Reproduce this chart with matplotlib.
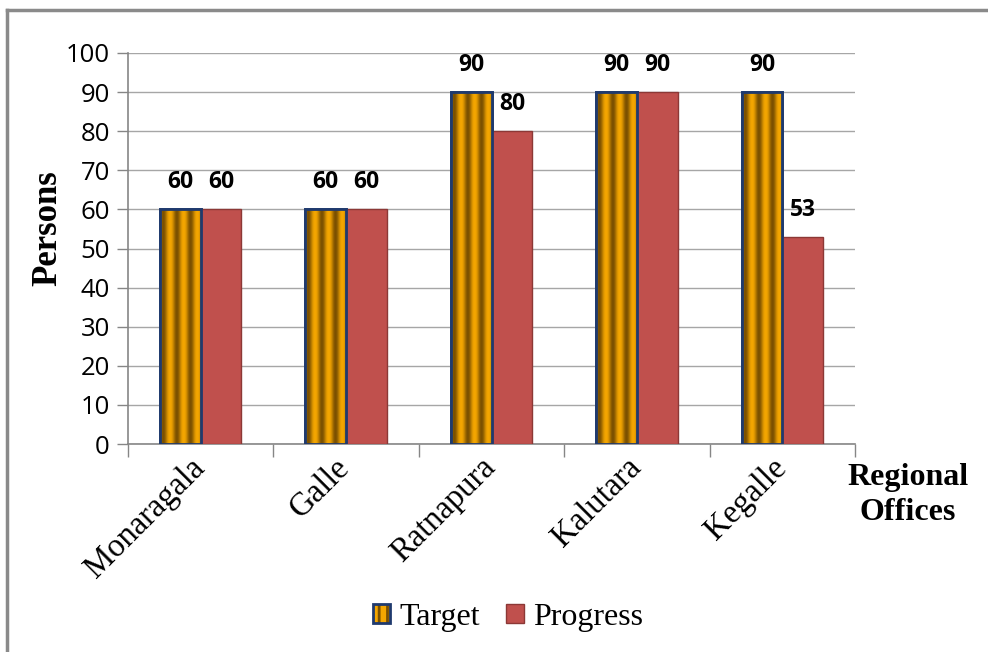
import numpy as np
import matplotlib
matplotlib.use("Agg")
import matplotlib.pyplot as plt
import matplotlib.transforms as mtransforms
from matplotlib.patches import Rectangle
from matplotlib.lines import Line2D
from matplotlib.legend_handler import HandlerTuple
from matplotlib.colors import LinearSegmentedColormap

offices = ["Monaragala", "Galle", "Ratnapura", "Kalutara", "Kegalle"]
target = [60, 60, 90, 90, 90]
progress = [60, 60, 80, 90, 53]
y_ticks = [0, 10, 20, 30, 40, 50, 60, 70, 80, 90, 100]

W, H = 988, 652
fig = plt.figure(figsize=(W / 100, H / 100), dpi=100)
ax = fig.add_axes([128 / W, 1 - 444 / H, (855 - 128) / W, (444 - 53) / H])

serif = "Liberation Serif"
sans = "Open Sans"
grid_col = "#A6A6A6"
axis_col = "#868686"
orange = "#F4A600"
brown = "#7A5000"
navy = "#1F3A6E"
red = "#C0504D"
red_edge = "#8C3836"

x = np.arange(len(offices))
bw = 0.28
tbars = ax.bar(x - bw / 2, target, bw, color=orange, edgecolor=navy, linewidth=2, zorder=3)
pbars = ax.bar(x + bw / 2, progress, bw, color=red, edgecolor=red_edge, linewidth=1, zorder=3)

# soft vertical stripes inside the target bars
stripe_cmap = LinearSegmentedColormap.from_list("stripe", [orange, brown])
t = np.linspace(0, 1, 300)
stripe = ((np.cos(2 * np.pi * 3 * (t - 0.08)) + 1) / 2) ** 1.2
stripe_img = np.tile(stripe, (2, 1))
for b in tbars:
    x0, w, h = b.get_x(), b.get_width(), b.get_height()
    im = ax.imshow(stripe_img, cmap=stripe_cmap, vmin=0, vmax=1,
                   extent=(x0, x0 + w, 0, h), aspect="auto",
                   interpolation="bilinear", zorder=3.5, origin="lower")
    im.set_clip_path(b)
    ax.add_patch(Rectangle((x0, 0), w, h, fill=False, edgecolor=navy,
                           linewidth=2, zorder=4))

ax.set_xlim(-0.5, len(offices) - 0.5)
ax.set_ylim(0, 100)
ax.set_yticks(y_ticks)
ax.set_yticklabels([str(v) for v in y_ticks], fontfamily=sans, fontsize=18.5)
ax.tick_params(axis="y", length=8, width=1, color=axis_col, pad=5)
ax.yaxis.grid(True, color=grid_col, linewidth=1)
ax.set_axisbelow(True)

ax.set_xticks(x)
ax.set_xticklabels(offices, rotation=45, ha="right", va="top",
                   fontfamily=serif, fontsize=23.5)
ax.tick_params(axis="x", length=0, pad=6)
shift = mtransforms.ScaledTranslation(10 / 100, 0, fig.dpi_scale_trans)
for lbl in ax.get_xticklabels():
    lbl.set_transform(lbl.get_transform() + shift)
ax.set_xticks(np.arange(-0.5, len(offices)), minor=True)
ax.tick_params(axis="x", which="minor", length=9, width=1, color=axis_col)

for s in ["top", "right"]:
    ax.spines[s].set_visible(False)
for s in ["left", "bottom"]:
    ax.spines[s].set_color(axis_col)
    ax.spines[s].set_linewidth(1.2)

for bars, vals in ((tbars, target), (pbars, progress)):
    for b, v in zip(bars, vals):
        ax.annotate(str(v), (b.get_x() + b.get_width() / 2, v),
                    xytext=(0, 19.5), textcoords="offset points",
                    ha="center", va="center", fontfamily=sans,
                    fontweight="bold", fontsize=16.5, zorder=6)

fig.text(48 / W, 1 - 228 / H, "Persons", rotation=90, ha="center", va="center",
         fontfamily=serif, fontweight="bold", fontsize=25)
fig.text(908 / W, 1 - 495 / H, "Regional\nOffices", ha="center", va="center",
         fontfamily=serif, fontweight="bold", fontsize=23, linespacing=1.25)

# legend swatches
t_face = Rectangle((0, 0), 1, 1, facecolor=orange, edgecolor="none")
t_hatch = Rectangle((0, 0), 1, 1, facecolor="none", edgecolor=brown, hatch="||", linewidth=0)
t_edge = Rectangle((0, 0), 1, 1, facecolor="none", edgecolor=navy, linewidth=2)
p_patch = Rectangle((0, 0), 1, 1, facecolor=red, edgecolor=red_edge, linewidth=1)
plt.rcParams["hatch.linewidth"] = 2.0
fig.legend([(t_face, t_hatch, t_edge), p_patch], ["Target", "Progress"],
           handler_map={tuple: HandlerTuple(ndivide=1, pad=0)},
           loc="center", bbox_to_anchor=(508 / W, 1 - 617 / H), ncol=2,
           frameon=False, prop={"family": serif, "size": 23},
           handlelength=0.55, handleheight=0.55, handletextpad=0.3,
           columnspacing=0.8)

# outer frame (top and left edges)
fig.add_artist(Line2D([7 / W, 1], [1 - 10 / H, 1 - 10 / H], transform=fig.transFigure,
                      color="#8A8A8A", linewidth=2.5))
fig.add_artist(Line2D([7 / W, 7 / W], [0, 1 - 10 / H], transform=fig.transFigure,
                      color="#8A8A8A", linewidth=2.5))

fig.savefig("out.png", dpi=100)
